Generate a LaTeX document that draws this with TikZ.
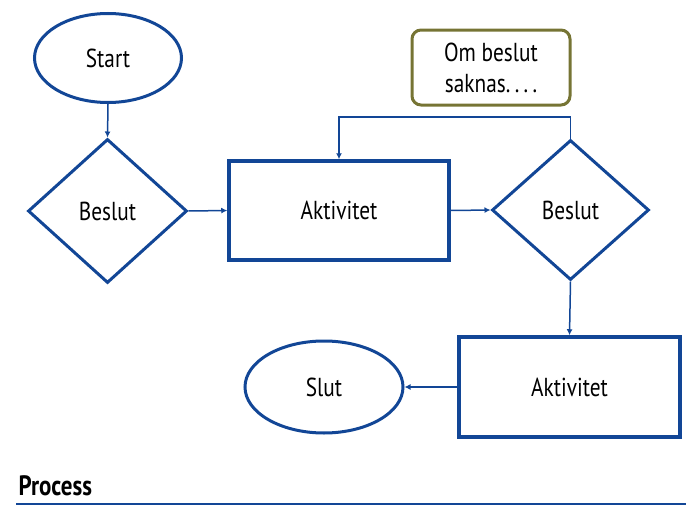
\documentclass[tikz,border=0pt]{standalone}
\usepackage{fontspec}
\setmainfont[FakeStretch=0.82]{PT Sans}
\usetikzlibrary{shapes.geometric,arrows.meta}
\definecolor{flowblue}{RGB}{18,70,150}
\definecolor{noteolive}{RGB}{118,116,52}
\tikzset{
  every node/.style={font=\fontsize{26}{30}\selectfont, text=black},
  term/.style={draw=flowblue, line width=3pt, ellipse, inner sep=0pt},
  decide/.style={draw=flowblue, line width=3pt, diamond, inner sep=0pt, aspect=1.1},
  act/.style={draw=flowblue, line width=3.5pt, rectangle, inner sep=0pt},
  note/.style={draw=noteolive, line width=3pt, rounded corners=9pt, inner sep=0pt, align=center, font=\fontsize{26}{31}\selectfont},
  conn/.style={draw=flowblue, line width=1.5pt, -{Latex[length=6pt,width=6pt]}},
}
\begin{document}
\begin{tikzpicture}[x=1pt,y=-1pt]
\useasboundingbox (0,0) rectangle (686,506);
\node[term, minimum width=147pt, minimum height=89pt] (start) at (108,58) {Start};
\node[decide, minimum width=159pt, minimum height=144pt] (d1) at (107.5,211) {Beslut};
\node[act, minimum width=220pt, minimum height=99pt] (a1) at (339,210.5) {Aktivitet};
\node[decide, minimum width=157pt, minimum height=140pt] (d2) at (570.5,210) {Beslut};
\node[note, minimum width=158pt, minimum height=75pt] (n) at (491,67.5) {Om beslut\\saknas.\,.\,.\,.};
\node[act, minimum width=221pt, minimum height=100pt] (a2) at (569.5,387) {Aktivitet};
\node[term, minimum width=158pt, minimum height=92pt] (slut) at (324,387) {Slut};
\node[anchor=base west, font=\fontsize{28}{32}\selectfont\bfseries] (proc) at (15,495) {Process};
\coordinate (lineL) at (16,504);
\coordinate (lineR) at (686,504);
\draw[flowblue, line width=2pt] (lineL) -- (lineR);

\draw[conn] (start.south) -- (d1.north);
\draw[conn] (d1.east) -- (a1.west);
\draw[conn] (a1.east) -- (d2.west);
\draw[conn] (d2.north) |- (339,117) -- (a1.north);
\draw[conn] (d2.south) -- (a2.north);
\draw[conn] (a2.west) -- (slut.east);
\end{tikzpicture}
\end{document}
